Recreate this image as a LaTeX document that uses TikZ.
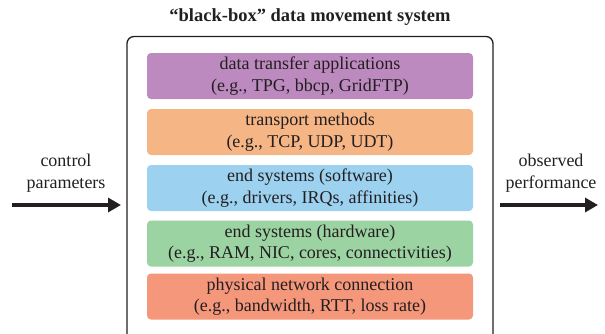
\documentclass[tikz,border=0pt]{standalone}
\usepackage{fontspec}
\setmainfont{Liberation Serif}
\usetikzlibrary{arrows.meta}
\definecolor{layerA}{HTML}{BC8ABF}
\definecolor{layerB}{HTML}{F5B584}
\definecolor{layerC}{HTML}{9DD1F0}
\definecolor{layerD}{HTML}{9CD3A2}
\definecolor{layerE}{HTML}{F5977A}
\definecolor{ink}{HTML}{231F20}
\tikzset{
  layer/.style={rounded corners=4pt, minimum width=326pt, minimum height=46pt,
    align=center, font=\fontsize{18}{21.5}\selectfont, text=ink, inner sep=0pt},
  sidelabel/.style={align=center, font=\fontsize{18}{21.5}\selectfont, text=ink},
  bigarrow/.style={line width=3.5pt, ink, -{Triangle[length=13pt,width=14pt]}}
}
\begin{document}
\begin{tikzpicture}[x=1pt,y=-1pt]
\useasboundingbox (0,0) rectangle (605,333);
% title
\node[font=\bfseries\fontsize{18.5}{22}\selectfont, text=ink] (title) at (310,17) {“black-box” data movement system};
% outer system box (runs past the lower edge)
\draw[line width=1.3pt, ink, rounded corners=7pt] (127,345) -- (127,36.5) -- (493,36.5) -- (493,345);
% stacked layers
\node[layer, fill=layerA] (apps) at (310,76) {data transfer applications\\(e.g., TPG, bbcp, GridFTP)};
\node[layer, fill=layerB] (trans) at (310,132) {transport methods\\(e.g., TCP, UDP, UDT)};
\node[layer, fill=layerC] (sw) at (310,188) {end systems (software)\\(e.g., drivers, IRQs, affinities)};
\node[layer, fill=layerD] (hw) at (310,243.5) {end systems (hardware)\\(e.g., RAM, NIC, cores, connectivities)};
\node[layer, fill=layerE] (net) at (310,296.5) {physical network connection\\(e.g., bandwidth, RTT, loss rate)};
% inputs and outputs
\node[sidelabel] (ctrl) at (66,173) {control\\parameters};
\node[sidelabel] (perf) at (551,173) {observed\\performance};
\coordinate (inA) at (12,205);
\coordinate (inB) at (121,205);
\coordinate (outA) at (500,205);
\coordinate (outB) at (598,205);
\draw[bigarrow] (inA) -- (inB);
\draw[bigarrow] (outA) -- (outB);
\end{tikzpicture}
\end{document}
